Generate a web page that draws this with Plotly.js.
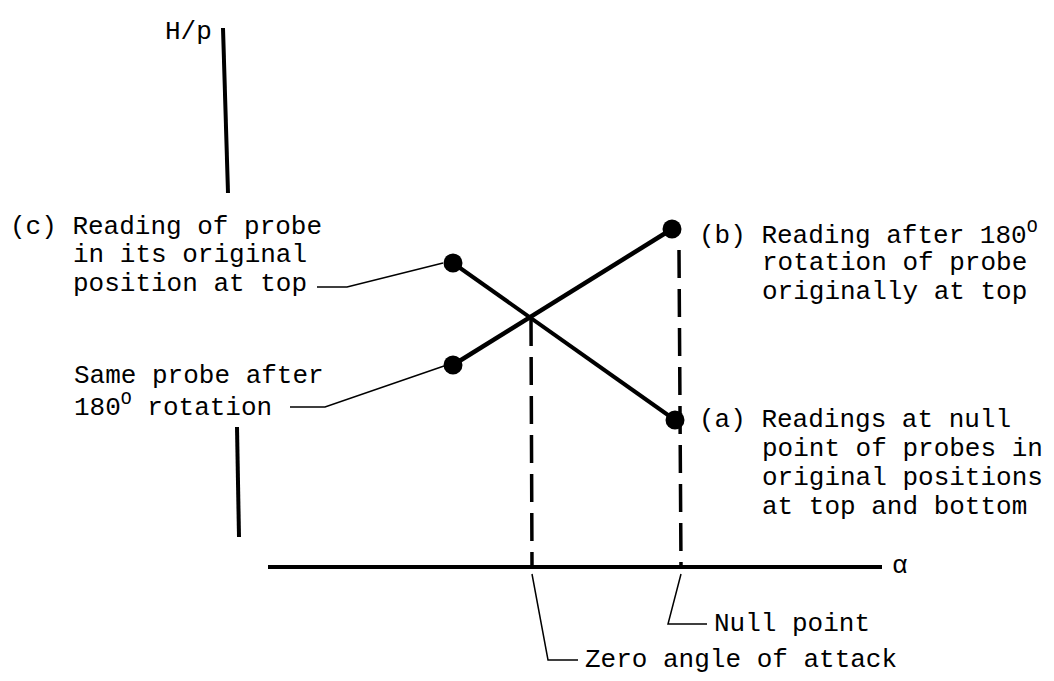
<!DOCTYPE html>
<html>
<head>
<meta charset="utf-8">
<script src="https://cdn.plot.ly/plotly-3.0.1.min.js"></script>
<style>
  html, body { margin: 0; padding: 0; background: #fff; }
  #myDiv { width: 1054px; height: 681px; }
</style>
</head>
<body>
<div id="myDiv"></div>
<script>
// diagram coordinates (x to the right, y downward, same scale as the sheet)

// axes of the sketch
var alphaAxisX = [268, 882],  alphaAxisY = [567, 567];
var hpTopX = [223, 228],      hpTopY = [28, 193];
var hpBottomX = [237, 239],   hpBottomY = [427, 537];

// the two probe lines
var riseX = [453, 672], riseY = [365, 229];   // same probe after 180 -> (b)
var fallX = [453, 675], fallY = [263, 420];   // (c) -> (a)

// the four readings
var pointX = [453, 453, 672, 675];
var pointY = [263, 365, 229, 420];

// dashed drop lines
var zeroDropX = [531, 532], zeroDropY = [318, 567];
var nullDropX = [679, 681], nullDropY = [250, 567];

// leader lines
var leadCX = [317, 347, 443], leadCY = [287, 287, 263];
var leadSameX = [290, 325, 444], leadSameY = [407, 407, 366];
var leadZeroX = [532, 548, 578], leadZeroY = [574, 660, 660];
var leadNullX = [681, 668, 707], leadNullY = [574, 624, 624];

// text
var labelText = [
  '(c) Reading of probe', 'in its original', 'position at top',
  'Same probe after', '180<sup>O</sup> rotation',
  '(b) Reading after 180<sup>O</sup>', 'rotation of probe', 'originally at top',
  '(a) Readings at null', 'point of probes in', 'original positions', 'at top and bottom',
  'Null point', 'Zero angle of attack'
];
var labelX = [8, 71, 71, 72, 72, 697, 760, 760, 697, 760, 760, 760, 712, 583];
var labelY = [227, 255, 284, 376, 406, 234, 263, 292, 420, 449, 478, 507, 624, 660];

var ink = '#000';

function seg(x, y, w, dash) {
  return {
    x: x, y: y, type: 'scatter', mode: 'lines', hoverinfo: 'skip',
    line: {color: ink, width: w, dash: dash || 'solid'}
  };
}

var data = [
  seg(alphaAxisX, alphaAxisY, 4),
  seg(hpTopX, hpTopY, 4),
  seg(hpBottomX, hpBottomY, 4),
  seg(zeroDropX, zeroDropY, 3.5, '28px,11px'),
  seg(nullDropX, nullDropY, 3.5, '28px,11px'),
  seg(riseX, riseY, 4.5),
  seg(fallX, fallY, 4),
  seg(leadCX, leadCY, 1.5),
  seg(leadSameX, leadSameY, 1.5),
  seg(leadZeroX, leadZeroY, 1.5),
  seg(leadNullX, leadNullY, 1.5),
  {
    x: pointX, y: pointY, type: 'scatter', mode: 'markers', hoverinfo: 'skip',
    marker: {color: ink, size: 19}
  }
];

var font = {family: 'Liberation Mono, DejaVu Sans Mono, monospace', size: 26, color: ink};

var annotations = [];
for (var i = 0; i < labelText.length; i++) {
  annotations.push({
    x: labelX[i], y: labelY[i], xref: 'x', yref: 'y',
    text: labelText[i], showarrow: false,
    xanchor: 'left', yanchor: 'middle', font: font
  });
}
annotations.push({x: 214, y: 32, xref: 'x', yref: 'y', text: 'H/p', showarrow: false,
                  xanchor: 'right', yanchor: 'middle', font: font});
annotations.push({x: 890, y: 566, xref: 'x', yref: 'y', text: 'α', showarrow: false,
                  xanchor: 'left', yanchor: 'middle', font: font});

var layout = {
  width: 1054, height: 681,
  margin: {l: 0, r: 0, t: 0, b: 0},
  paper_bgcolor: '#fff', plot_bgcolor: '#fff',
  showlegend: false,
  xaxis: {range: [0, 1054], visible: false, fixedrange: true},
  yaxis: {range: [681, 0], visible: false, fixedrange: true},
  annotations: annotations
};

Plotly.newPlot('myDiv', data, layout, {displayModeBar: false, staticPlot: true});
</script>
</body>
</html>
